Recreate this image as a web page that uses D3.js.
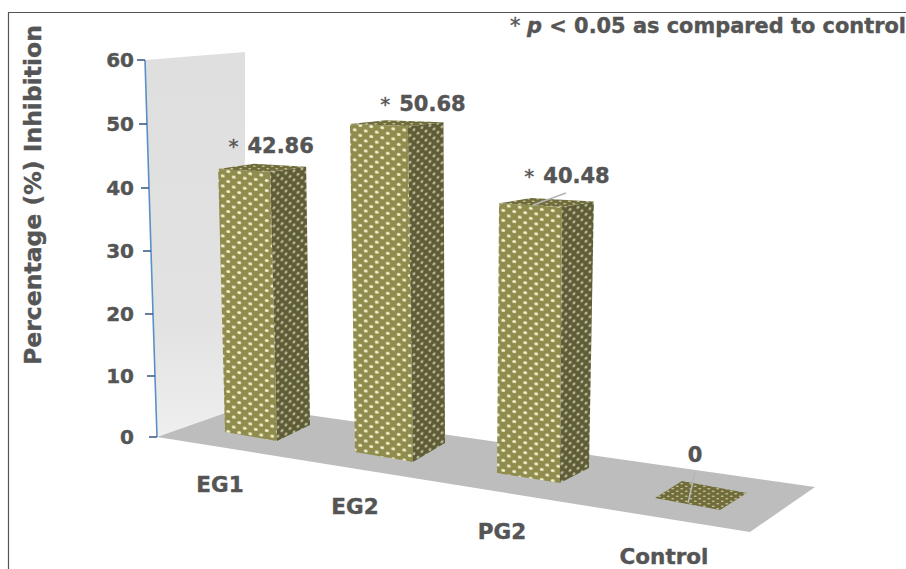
<!DOCTYPE html>
<html>
<head>
<meta charset="utf-8">
<script src="https://cdnjs.cloudflare.com/ajax/libs/d3/7.8.5/d3.min.js"></script>
<style>
  html, body { margin: 0; padding: 0; background: #fff; overflow: hidden; }
  svg { display: block; }
  text { font-family: "DejaVu Sans", sans-serif; font-weight: bold; fill: #555; stroke: #555; stroke-width: 0.4px; }
</style>
</head>
<body>
<div id="chart"></div>
<script>
let categories = ["EG1", "EG2", "PG2", "Control"];
let inhibition = [42.86, 50.68, 40.48, 0];
let significant = [true, true, true, false];
let yTicks = [0, 10, 20, 30, 40, 50, 60];

let width = 906, height = 569;
let slots = d3.range(categories.length);

let svg = d3.select("#chart").append("svg")
    .attr("width", width)
    .attr("height", height);

// Perspective: every bar sits on the floor, so its anchor comes from scales over the slot index
let footX = d3.scaleLinear().domain(slots).range([277, 413, 560, 720]);
let footY = d3.scaleLinear().domain(slots).range([441, 462, 483, 510]);
let leftDx = d3.scaleLinear().domain(slots).range([-52, -58, -63, -65]);
let leftDy = d3.scaleLinear().domain(slots).range([-9, -10, -10, -12]);
let rightDx = d3.scaleLinear().domain(slots).range([33, 32, 29, 27]);
let rightDy = d3.scaleLinear().domain(slots).range([-16, -19, -15, -17]);
let pxPerUnit = d3.scaleLinear().domain(slots).range([6.28, 6.63, 6.82, 7]);
let leanPerUnit = d3.scaleLinear().domain(slots).range([-0.16, -0.1, 0.05, 0.1]);
let flatten = d3.scaleLinear().domain([0, 60]).range([1, 0.05]);

// Value axis: slanted and foreshortened, spacing shrinks a little towards the floor
let yAxisY = d3.scaleLinear().domain(yTicks).range([437, 376, 314, 251, 188, 124, 60]);
let yAxisX = d3.scaleLinear().domain([0, 60]).range([157, 145]);

function corners(i, v) {
  let cx = footX(i) + leanPerUnit(i) * v,
      cy = footY(i) - pxPerUnit(i) * v,
      k = flatten(v),
      ldx = leftDx(i),
      rdx = rightDx(i) + 0.07 * v,
      ldy = leftDy(i) * k,
      rdy = rightDy(i) * k;
  return {
    front: [cx, cy],
    left: [cx + ldx, cy + ldy],
    right: [cx + rdx, cy + rdy],
    back: [cx + ldx + rdx, cy + ldy + rdy]
  };
}

// Mesh textures
let defs = svg.append("defs");

function mesh(id, w, h, skew, base, dot, rx, ry) {
  let p = defs.append("pattern")
      .attr("id", id)
      .attr("patternUnits", "userSpaceOnUse")
      .attr("width", w)
      .attr("height", h)
      .attr("patternTransform", "skewY(" + skew + ")");
  p.append("rect").attr("width", w).attr("height", h).attr("fill", base);
  [[w * 0.25, h * 0.25], [w * 0.75, h * 0.75]].forEach(function(c) {
    p.append("ellipse")
      .attr("cx", c[0]).attr("cy", c[1])
      .attr("rx", rx).attr("ry", ry)
      .attr("fill", dot);
  });
}
mesh("meshFront", 11, 10, 6, "#8f8c4e", "#f2efcb", 2, 1.5);
mesh("meshSide", 8, 9, -15, "#5e5c38", "#bdbb94", 1.5, 1.4);
mesh("meshTop", 9, 5, 0, "#6f6c3c", "#c6c290", 1.6, 0.8);

defs.append("filter")
    .attr("id", "soften")
  .append("feGaussianBlur")
    .attr("stdDeviation", 0.5);

let wallFade = defs.append("linearGradient")
    .attr("id", "wallFade")
    .attr("x1", 0).attr("y1", 0).attr("x2", 0).attr("y2", 1);
wallFade.append("stop").attr("offset", "0%").attr("stop-color", "#dfdfdf");
wallFade.append("stop").attr("offset", "70%").attr("stop-color", "#e2e2e2");
wallFade.append("stop").attr("offset", "100%").attr("stop-color", "#efefef");

// Frame, only top and left show
svg.append("path")
  .attr("d", "M8.5,569V12.5H906")
  .attr("fill", "none")
  .attr("stroke", "#555")
  .attr("stroke-width", 1.2);

// Back wall and floor
let wallTop = d3.scaleLinear().domain([145, 245]).range([60, 52]);
svg.append("polygon")
  .attr("points", [[yAxisX(60), wallTop(145)], [245, wallTop(245)], [245, 406], [yAxisX(0), yAxisY(0)]].join(" "))
  .attr("fill", "url(#wallFade)");
svg.append("polygon")
  .attr("points", [[yAxisX(0), yAxisY(0)], [245, 406], [815, 487], [750, 532]].join(" "))
  .attr("fill", "#bdbdbd");

// Value axis
let yAxis = d3.axisLeft(yAxisY)
    .tickValues(yTicks)
    .tickSize(8)
    .tickSizeOuter(0)
    .tickFormat(d3.format("d"));

let axisG = svg.append("g").attr("class", "yAxis").call(yAxis);
axisG.select(".domain")
  .attr("d", d3.line()(yTicks.map(function(d) { return [yAxisX(d), yAxisY(d)]; })))
  .attr("stroke", "#5b8fc9")
  .attr("stroke-width", 1.6)
  .attr("fill", "none");
axisG.selectAll(".tick")
  .attr("transform", function(d) { return "translate(" + yAxisX(d) + "," + yAxisY(d) + ")"; });
axisG.selectAll(".tick line")
  .attr("stroke", "#3f5f8a")
  .attr("stroke-width", 1.6);
axisG.selectAll(".tick text")
  .attr("x", function(d) { return 134 - yAxisX(d); })
  .attr("dy", "0.36em")
  .attr("text-anchor", "end")
  .style("font-family", '"DejaVu Sans", sans-serif')
  .style("font-size", "20px")
  .style("font-weight", "bold")
  .style("fill", "#555");

// Bars, from back to front
let bars = svg.selectAll(".bar")
    .data(slots)
  .enter().append("g")
    .attr("class", "bar");

function poly(list) { return list.map(function(p) { return p.join(","); }).join(" "); }

bars.filter(function(i) { return inhibition[i] > 0; }).append("polygon")
  .attr("points", function(i) {
    let b = corners(i, 0), t = corners(i, inhibition[i]);
    return poly([t.front, t.left, b.left, b.front]);
  })
  .attr("fill", "url(#meshFront)")
  .attr("filter", "url(#soften)");
bars.filter(function(i) { return inhibition[i] > 0; }).append("polygon")
  .attr("points", function(i) {
    let b = corners(i, 0), t = corners(i, inhibition[i]);
    return poly([t.front, t.right, b.right, b.front]);
  })
  .attr("fill", "url(#meshSide)")
  .attr("filter", "url(#soften)");
bars.append("polygon")
  .attr("points", function(i) {
    let t = corners(i, inhibition[i]);
    return poly([t.front, t.right, t.back, t.left]);
  })
  .attr("fill", "url(#meshTop)")
  .attr("filter", "url(#soften)");

// Data labels and their leader lines
let labelDx = d3.scaleLinear().domain(slots).range([1, 15, 5, -25]);
let labelDy = d3.scaleLinear().domain(slots).range([-19, -15, -24, -48]);

bars.append("text")
  .attr("x", function(i) { return footX(i) + leanPerUnit(i) * inhibition[i] + labelDx(i); })
  .attr("y", function(i) { return footY(i) - pxPerUnit(i) * inhibition[i] + labelDy(i); })
  .attr("text-anchor", "middle")
  .style("font-size", "21px")
  .each(function(i) {
    let t = d3.select(this);
    if (significant[i]) {
      t.append("tspan").style("font-weight", "normal").style("font-size", "20px").text("*");
    }
    t.append("tspan").attr("dx", significant[i] ? 9 : 0).text(inhibition[i]);
  });

let leaderFrom = [null, null, [533, 205], [688, 503]];
let leaderTo = [null, null, [566, 193], [695, 473]];
svg.selectAll(".leader")
    .data(slots.filter(function(i) { return leaderFrom[i]; }))
  .enter().append("line")
    .attr("class", "leader")
    .attr("x1", function(i) { return leaderFrom[i][0]; })
    .attr("y1", function(i) { return leaderFrom[i][1]; })
    .attr("x2", function(i) { return leaderTo[i][0]; })
    .attr("y2", function(i) { return leaderTo[i][1]; })
    .attr("stroke", "#b5b5b5")
    .attr("stroke-width", 1.6);

// Category labels run along the front edge of the floor
let catX = d3.scaleLinear().domain(slots).range([220, 355, 502, 664]);
let catY = d3.scaleLinear().domain(slots).range([492, 514, 539, 564]);
svg.selectAll(".cat")
    .data(slots)
  .enter().append("text")
    .attr("class", "cat")
    .attr("x", function(i) { return catX(i); })
    .attr("y", function(i) { return catY(i); })
    .attr("text-anchor", "middle")
    .style("font-size", "21.5px")
    .text(function(i) { return categories[i]; });

// Axis title
svg.append("text")
  .attr("transform", "translate(41,195) rotate(-90)")
  .attr("text-anchor", "middle")
  .style("font-size", "23.5px")
  .text("Percentage (%) Inhibition");

// Significance note, reaches right up to the edge as in the source
let note = svg.append("text")
  .attr("x", 510)
  .attr("y", 33)
  .style("font-size", "20.9px");
note.append("tspan").style("font-weight", "normal").style("font-style", "italic").text("* ");
note.append("tspan").style("font-style", "italic").text("p");
note.append("tspan").text(" < 0.05 as compared to control");
</script>
</body>
</html>
